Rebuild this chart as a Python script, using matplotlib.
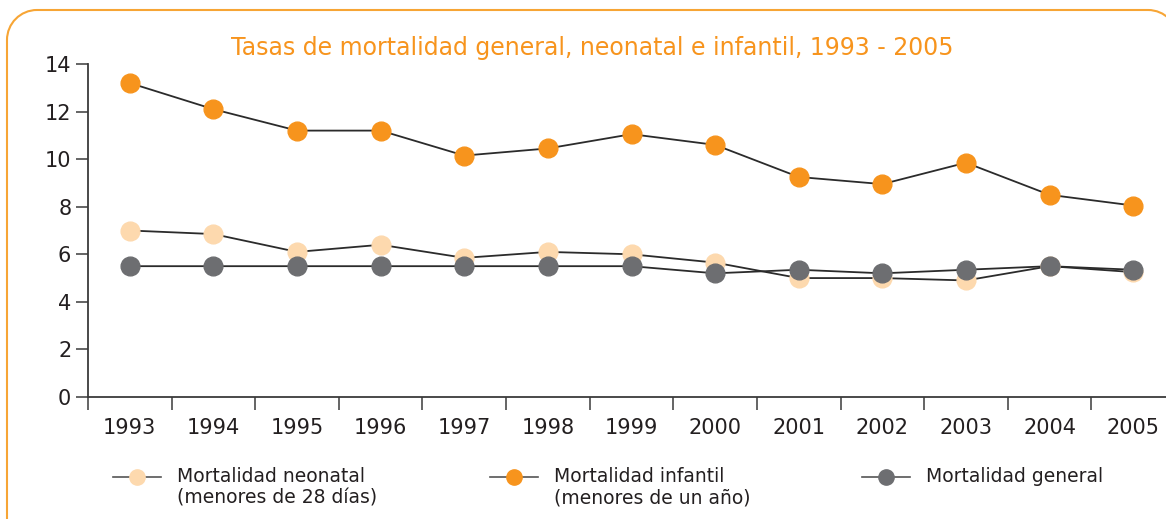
import matplotlib.pyplot as plt
from matplotlib.patches import PathPatch
from matplotlib.path import Path
from matplotlib.lines import Line2D

years = ['1993', '1994', '1995', '1996', '1997', '1998', '1999',
         '2000', '2001', '2002', '2003', '2004', '2005']
neonatal = [7.0, 6.85, 6.1, 6.4, 5.85, 6.1, 6.0, 5.65, 5.0, 5.0, 4.9, 5.5, 5.25]
infantil = [13.2, 12.1, 11.2, 11.2, 10.15, 10.45, 11.05, 10.6, 9.25, 8.95, 9.85, 8.5, 8.05]
general = [5.5, 5.5, 5.5, 5.5, 5.5, 5.5, 5.5, 5.2, 5.35, 5.2, 5.35, 5.5, 5.35]

labels = ['Mortalidad neonatal\n(menores de 28 días)',
          'Mortalidad infantil\n(menores de un año)',
          'Mortalidad general']
colors = ['#FDD9AE', '#F7941D', '#6D6E71']
series = [neonatal, infantil, general]

line_color = '#2b2b2b'
axis_color = '#3a3a3a'
text_color = '#231f20'

W, H = 1166, 519
fig = plt.figure(figsize=(W / 100, H / 100), dpi=100)

# rounded orange frame, built in pixels (origin bottom-left)
left, right, top, r = 7, 1178, H - 10, 30
k = 0.5523 * r
verts = [(left, -10), (left, top - r),
         (left, top - r + k), (left + r - k, top), (left + r, top),
         (right - r, top),
         (right - r + k, top), (right, top - r + k), (right, top - r),
         (right, -10)]
codes = [Path.MOVETO, Path.LINETO,
         Path.CURVE4, Path.CURVE4, Path.CURVE4,
         Path.LINETO,
         Path.CURVE4, Path.CURVE4, Path.CURVE4,
         Path.LINETO]
frame = PathPatch(Path(verts, codes), transform=fig.dpi_scale_trans.frozen()
                  .scale(1 / 100), facecolor='none', edgecolor='#F7A535',
                  linewidth=1.5)
fig.add_artist(frame)

ax = fig.add_axes([88 / W, 122 / H, 1087 / W, 333 / H])
x = list(range(len(years)))

for vals in series:
    ax.plot(x, vals, color=line_color, linewidth=1.3, zorder=2)
for vals, c in zip(series, colors):
    ax.plot(x, vals, linestyle='none', marker='o', markersize=13.5,
            markerfacecolor=c, markeredgecolor=c, zorder=3)

ax.set_ylim(0, 14)
ax.set_yticks(range(0, 15, 2))
ax.set_xlim(-0.5, len(years) - 0.5)
ax.set_xticks([i - 0.5 for i in range(len(years) + 1)])
ax.set_xticklabels([])
ax.set_xticks(x, minor=True)
ax.set_xticklabels(years, minor=True)

for side in ['top', 'right']:
    ax.spines[side].set_visible(False)
for side in ['left', 'bottom']:
    ax.spines[side].set_color(axis_color)
    ax.spines[side].set_linewidth(1.3)

ax.tick_params(axis='y', length=9, width=1.1, color=axis_color,
               labelsize=15, labelcolor=text_color, pad=3)
ax.tick_params(axis='x', which='major', length=9, width=1.1, color=axis_color,
               direction='out')
ax.tick_params(axis='x', which='minor', length=0, labelsize=15,
               labelcolor=text_color, pad=15)

fig.text(0.508, 0.9075, 'Tasas de mortalidad general, neonatal e infantil, 1993 - 2005',
         color='#F7941D', fontsize=17, ha='center', va='center')

# legend drawn by hand so the symbol lines up with the first text line
legend_x = [113, 490, 862]
legend_y = 477
for lab, c, lx in zip(labels, colors, legend_x):
    xs = [lx / W, (lx + 48) / W]
    ys = [1 - legend_y / H] * 2
    fig.add_artist(Line2D(xs, ys, color='#555555', linewidth=1.2,
                          transform=fig.transFigure))
    fig.add_artist(Line2D([(lx + 24) / W], [ys[0]], linestyle='none', marker='o',
                          markersize=11, markerfacecolor=c, markeredgecolor=c,
                          transform=fig.transFigure))
    fig.text((lx + 64) / W, 1 - (legend_y - 10) / H, lab, fontsize=13.5,
             color=text_color, ha='left', va='top', linespacing=1.15)

fig.savefig('out.png', dpi=100)
